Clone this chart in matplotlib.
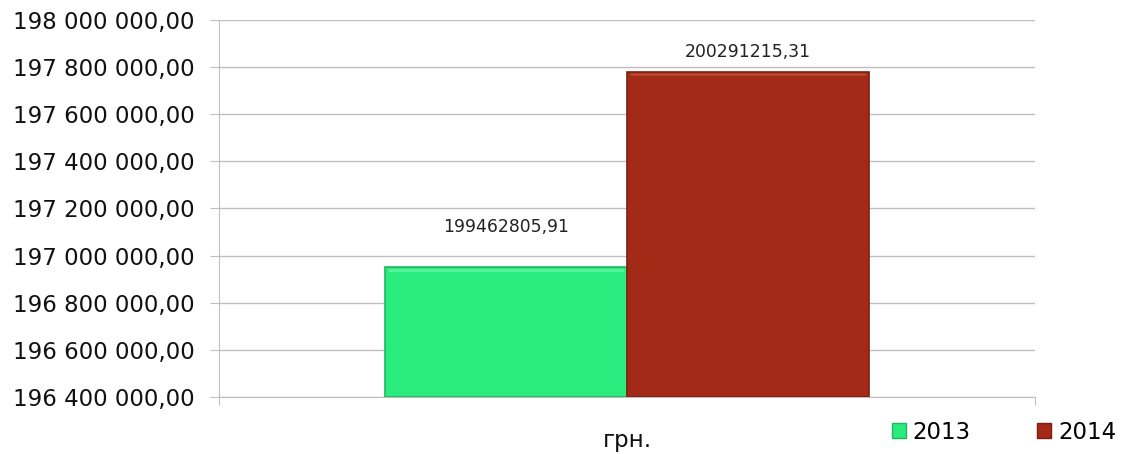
import numpy as np
import matplotlib.pyplot as plt
from matplotlib.patches import Patch

kategoria = 'грн.'
lata = ['2013', '2014']
wartosci = [199462805.91, 200291215.31]
etykiety_wartosci = ['199462805,91', '200291215,31']
kolory = ['#2AEB7E', '#A22A17']
krawedzie = ['#1FB862', '#7E1E0E']
jasne = ['#5CF29C', '#B8432E']

etykiety_osi = ['196 400 000,00', '196 600 000,00', '196 800 000,00', '197 000 000,00',
                '197 200 000,00', '197 400 000,00', '197 600 000,00', '197 800 000,00',
                '198 000 000,00']
zakres_osi = (198913000, 200513000)

plt.rcParams['font.family'] = ['DejaVu Sans']

fig = plt.figure(figsize=(11.27, 4.54), dpi=100)
ax = fig.add_axes([0.1943, 0.1256, 0.7241, 0.8304])

szer = 0.297
pozycje = [-szer / 2, szer / 2]
for x, v, k, e, j in zip(pozycje, wartosci, kolory, krawedzie, jasne):
    ax.bar(x, v - zakres_osi[0], width=szer, bottom=zakres_osi[0], color=k,
           edgecolor=e, linewidth=1.2, zorder=3)
    # jasniejsza krawedz u gory slupka
    ax.plot([x - szer / 2 + 0.004, x + szer / 2 - 0.004], [v - 9000, v - 9000],
            color=j, linewidth=2, zorder=4, solid_capstyle='butt')

# etykiety wartosci nad slupkami
odstepy = [29, 14.5]
for x, v, t, d in zip(pozycje, wartosci, etykiety_wartosci, odstepy):
    ax.annotate(t, (x, v), xytext=(0, d), textcoords='offset points',
                ha='center', va='center', fontsize=12.4, color='#222222')

ax.set_xlim(-0.5, 0.5)
ax.set_ylim(*zakres_osi)
ax.set_yticks(np.linspace(zakres_osi[0], zakres_osi[1], len(etykiety_osi)))
ax.set_yticklabels(etykiety_osi, fontsize=16.5)
ax.tick_params(axis='y', length=6.5, color='#BFBFBF', pad=11, labelcolor='#111111')
ax.set_xticks([-0.5, 0.5])
ax.set_xticklabels(['', ''])
ax.tick_params(axis='x', length=6, color='#BFBFBF')
ax.text(0.0, -0.115, kategoria, transform=ax.get_xaxis_transform(), ha='center',
        va='center', fontsize=16.5, color='#111111')

ax.grid(axis='y', color='#BFBFBF', linewidth=1, zorder=0)
for s in ['top', 'right']:
    ax.spines[s].set_visible(False)
ax.spines['left'].set_color('#BFBFBF')
ax.spines['bottom'].set_color('#BFBFBF')

uchwyty = [Patch(facecolor=k, edgecolor=e, label=l) for k, e, l in zip(kolory, krawedzie, lata)]
fig.legend(handles=uchwyty, loc='center', bbox_to_anchor=(0.891, 0.048), ncol=2,
           frameon=False, fontsize=16.5, handlelength=0.6, handleheight=0.6,
           handletextpad=0.3, columnspacing=2.9)

fig.savefig('out.png', dpi=100)
